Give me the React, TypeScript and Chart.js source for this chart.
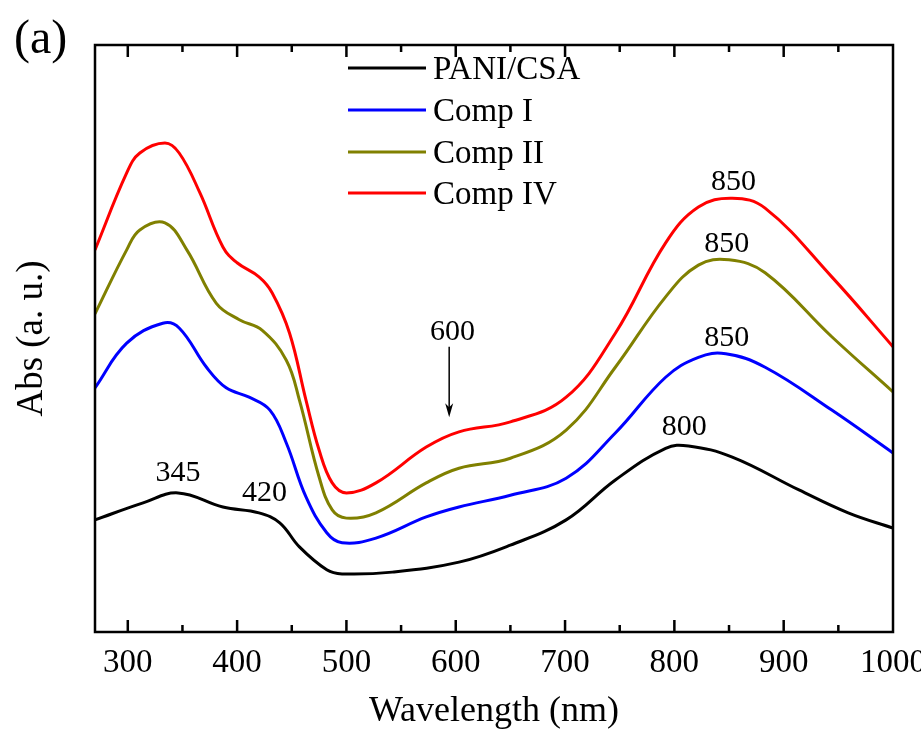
import React, { useEffect, useRef } from "react";
import { Chart, registerables } from "chart.js";

Chart.register(...registerables);

const wlPANI = [270, 314, 346, 387, 420, 439, 457, 482, 496, 542, 603, 650, 701, 746, 792, 813, 853, 914, 959, 1000];
const absPANI = [19.1, 22.0, 23.7, 21.3, 20.3, 18.6, 14.5, 10.6, 9.9, 10.2, 11.9, 14.8, 19.1, 25.9, 31.3, 31.7, 29.8, 24.2, 20.3, 17.7];

const wlComp1 = [270, 299, 332, 347, 372, 390, 411, 430, 445, 463, 482, 496, 527, 573, 603, 650, 701, 746, 792, 822, 847, 883, 944, 1000];
const absComp1 = [41.6, 49.2, 52.6, 51.8, 45.1, 41.6, 40.0, 37.8, 32.2, 23.0, 16.9, 15.2, 16.0, 19.6, 21.3, 23.3, 26.2, 33.9, 43.4, 46.8, 47.4, 45.1, 37.8, 30.5];

const wlComp2 = [270, 299, 311, 334, 354, 381, 402, 423, 445, 457, 475, 487, 500, 527, 573, 603, 650, 701, 746, 792, 822, 850, 883, 944, 1000];
const absComp2 = [54.2, 65.1, 68.5, 69.7, 65.1, 56.0, 53.2, 51.4, 46.3, 39.5, 26.4, 20.8, 19.4, 20.3, 25.4, 27.9, 29.6, 34.4, 45.1, 57.1, 62.5, 63.4, 61.2, 50.3, 40.9];

const wlComp4 = [270, 299, 311, 334, 347, 366, 387, 400, 420, 432, 448, 463, 475, 487, 500, 527, 573, 603, 650, 701, 746, 792, 822, 853, 883, 944, 1000];
const absComp4 = [65.1, 78.2, 81.6, 83.3, 81.6, 74.8, 65.6, 62.9, 60.5, 57.8, 50.9, 39.5, 31.0, 25.4, 23.7, 25.4, 31.5, 34.1, 35.8, 40.0, 50.9, 66.3, 72.4, 73.9, 72.2, 60.5, 48.6];

const seriesLabels = ["PANI/CSA", "Comp I", "Comp II", "Comp IV"];
const seriesColors = ["#000000", "#0000ff", "#808000", "#ff0000"];

const xTickValues = [300, 400, 500, 600, 700, 800, 900, 1000];

// peak annotations: [wavelength, abs, text]
const peakLabels: [number, number, string][] = [
  [346, 27.1, "345"],
  [425, 23.7, "420"],
  [597, 51.1, "600"],
  [809, 34.9, "800"],
  [854, 76.7, "850"],
  [848, 66.1, "850"],
  [848, 50.1, "850"],
];
const arrow600: [number, number, number] = [594, 48.6, 36.6];

const FONT = "'Liberation Serif', 'Times New Roman', serif";

function toPts(xs: number[], ys: number[]) {
  return xs.map((x, i) => ({ x, y: ys[i] }));
}

const decorPlugin = {
  id: "decor",
  afterDatasetsDraw(chart: any) {
    const { ctx, chartArea, scales } = chart;
    const xs = scales.x;
    const ys = scales.y;
    ctx.save();
    // frame
    ctx.strokeStyle = "#000";
    ctx.lineWidth = 2.5;
    ctx.strokeRect(chartArea.left, chartArea.top, chartArea.right - chartArea.left, chartArea.bottom - chartArea.top);
    // inward ticks
    for (let v = 300; v <= 1000; v += 50) {
      const px = xs.getPixelForValue(v);
      if (px <= chartArea.left + 1 || px >= chartArea.right - 1) continue;
      const len = v % 100 === 0 ? 12 : 7;
      ctx.beginPath();
      ctx.moveTo(px, chartArea.bottom);
      ctx.lineTo(px, chartArea.bottom - len);
      ctx.moveTo(px, chartArea.top);
      ctx.lineTo(px, chartArea.top + len);
      ctx.stroke();
    }
    // peak labels
    ctx.fillStyle = "#000";
    ctx.font = `30px ${FONT}`;
    ctx.textAlign = "center";
    ctx.textBaseline = "middle";
    for (const [x, y, t] of peakLabels) {
      ctx.fillText(t, xs.getPixelForValue(x), ys.getPixelForValue(y));
    }
    // arrow
    const ax = xs.getPixelForValue(arrow600[0]);
    const ay1 = ys.getPixelForValue(arrow600[1]);
    const ay2 = ys.getPixelForValue(arrow600[2]);
    ctx.lineWidth = 1.5;
    ctx.beginPath();
    ctx.moveTo(ax, ay1);
    ctx.lineTo(ax, ay2 - 4);
    ctx.stroke();
    ctx.beginPath();
    ctx.moveTo(ax, ay2);
    ctx.lineTo(ax - 4, ay2 - 14);
    ctx.lineTo(ax, ay2 - 10);
    ctx.lineTo(ax + 4, ay2 - 14);
    ctx.closePath();
    ctx.fill();
    // legend
    const legendX0 = 348;
    const legendX1 = 426;
    const legendY = [68, 110, 152, 193];
    ctx.textAlign = "left";
    ctx.font = `33px ${FONT}`;
    chart.data.datasets.forEach((ds: any, i: number) => {
      ctx.strokeStyle = ds.borderColor;
      ctx.lineWidth = 3;
      ctx.beginPath();
      ctx.moveTo(legendX0, legendY[i]);
      ctx.lineTo(legendX1, legendY[i]);
      ctx.stroke();
      ctx.fillStyle = "#000";
      ctx.fillText(ds.label, 433, legendY[i] + 2);
    });
    // panel label
    ctx.font = `48px ${FONT}`;
    ctx.fillText("(a)", 14, 40);
    ctx.restore();
  },
};

export default function App() {
  const ref = useRef<HTMLCanvasElement>(null);
  useEffect(() => {
    if (!ref.current) return;
    const data = [
      toPts(wlPANI, absPANI),
      toPts(wlComp1, absComp1),
      toPts(wlComp2, absComp2),
      toPts(wlComp4, absComp4),
    ];
    const chart = new Chart(ref.current, {
      type: "line",
      data: {
        datasets: data.map((d, i) => ({
          label: seriesLabels[i],
          data: d,
          borderColor: seriesColors[i],
          backgroundColor: seriesColors[i],
          borderWidth: 3,
          pointRadius: 0,
          tension: 0.4,
          fill: false,
        })),
      },
      options: {
        responsive: false,
        animation: false,
        layout: { padding: { top: 45, right: 28, left: 0, bottom: 0 } },
        plugins: { legend: { display: false }, tooltip: { enabled: false } },
        scales: {
          x: {
            type: "linear",
            min: 270,
            max: 1000,
            grid: { display: false, drawTicks: false },
            border: { display: false },
            afterBuildTicks: (s: any) => {
              s.ticks = xTickValues.map((v) => ({ value: v }));
            },
            ticks: {
              color: "#000",
              font: { family: FONT, size: 33 },
              padding: 12,
              maxRotation: 0,
              autoSkip: false,
              callback: (v: any) => String(v),
            },
            title: {
              display: true,
              text: "Wavelength (nm)",
              color: "#000",
              font: { family: FONT, size: 36, lineHeight: 1 },
              padding: { top: 0, bottom: 0 },
            },
            afterFit: (s: any) => {
              s.height = 98;
              s.paddingRight = 0;
              s.paddingLeft = 0;
            },
          },
          y: {
            type: "linear",
            min: 0,
            max: 100,
            grid: { display: false, drawTicks: false },
            border: { display: false },
            ticks: { display: false },
            title: {
              display: true,
              text: "Abs (a. u.)",
              color: "#000",
              font: { family: FONT, size: 37, lineHeight: 1 },
              padding: { top: 14, bottom: 0 },
            },
            afterFit: (s: any) => {
              s.width = 95;
            },
          },
        },
      },
      plugins: [decorPlugin],
    });
    return () => chart.destroy();
  }, []);
  return (
    <div style={{ position: "absolute", left: 0, top: 0, width: 921, height: 730, background: "#fff" }}>
      <canvas ref={ref} width={921} height={730} />
    </div>
  );
}
